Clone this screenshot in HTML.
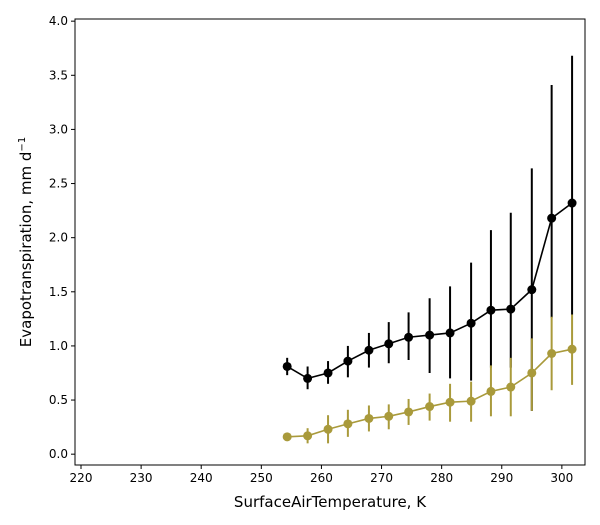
<!DOCTYPE html>
<html><head><meta charset="utf-8"><style>
body{margin:0;background:#fff;}
svg{display:block;font-family:"DejaVu Sans","Liberation Sans",sans-serif;}
</style></head><body>
<svg id="chart" width="600" height="525"></svg>
<script>
const xTicks=[220,230,240,250,260,270,280,290,300];
const yTicks=[0.0,0.5,1.0,1.5,2.0,2.5,3.0,3.5,4.0];
const temps=[254.3,257.7,261.1,264.4,267.9,271.2,274.5,278.0,281.4,284.9,288.2,291.5,295.0,298.3,301.7];
const blackVals=[0.81,0.70,0.75,0.86,0.96,1.02,1.08,1.10,1.12,1.21,1.33,1.34,1.52,2.18,2.32];
const blackHi=[0.89,0.81,0.86,1.00,1.12,1.22,1.31,1.44,1.55,1.77,2.07,2.23,2.64,3.41,3.68];
const blackLo=[0.73,0.60,0.65,0.71,0.80,0.84,0.87,0.75,0.70,0.68,0.80,0.80,0.40,1.26,1.29];
const goldVals=[0.16,0.17,0.23,0.28,0.33,0.35,0.39,0.44,0.48,0.49,0.58,0.62,0.75,0.93,0.97];
const goldHi=[0.17,0.24,0.36,0.41,0.45,0.46,0.51,0.56,0.65,0.67,0.82,0.89,1.07,1.27,1.29];
const goldLo=[0.15,0.10,0.10,0.16,0.21,0.23,0.27,0.31,0.30,0.30,0.35,0.35,0.40,0.59,0.64];

const L=75,R=585,T=19,B=465;
const xmin=219.0,xmax=303.85,ymin=-0.1,ymax=4.02;
const X=v=>L+(v-xmin)/(xmax-xmin)*(R-L);
const Y=v=>B-(v-ymin)/(ymax-ymin)*(B-T);
const svg=document.getElementById('chart');
const NS='http://www.w3.org/2000/svg';
function mk(tag,attrs,parent){const e=document.createElementNS(NS,tag);for(const k in attrs)e.setAttribute(k,attrs[k]);(parent||svg).appendChild(e);return e;}

xTicks.forEach(t=>{
  const g=mk('g',{});
  
  
  mk('line',{x1:X(t),x2:X(t),y1:B,y2:B+4,stroke:'#000'},g);
  const tx=mk('text',{x:X(t),y:B+17,'text-anchor':'middle','font-size':12},g);tx.textContent=t;
});
yTicks.forEach(t=>{
  const g=mk('g',{});
  
  
  mk('line',{x1:L-4,x2:L,y1:Y(t),y2:Y(t),stroke:'#000'},g);
  const tx=mk('text',{x:L-7,y:Y(t)+4,'text-anchor':'end','font-size':12},g);tx.textContent=t.toFixed(1);
});

function series(vals,hi,lo,color,name){
  const g=mk('g',{});
  
  
  vals.forEach((v,i)=>{
    const l=mk('line',{x1:X(temps[i]),x2:X(temps[i]),y1:Y(lo[i]),y2:Y(hi[i]),stroke:color,'stroke-width':2},g);
    
    
  });
  const p=mk('polyline',{points:vals.map((v,i)=>X(temps[i])+','+Y(v)).join(' '),fill:'none',stroke:color,'stroke-width':1.6},g);
  
  
  vals.forEach((v,i)=>{
    const c=mk('circle',{cx:X(temps[i]),cy:Y(v),r:4.5,fill:color},g);
    
    
  });
}
series(blackVals,blackHi,blackLo,'#000','series-black');
series(goldVals,goldHi,goldLo,'#a99a3b','series-gold');

const fr=mk('rect',{x:L,y:T,width:R-L,height:B-T,fill:'none',stroke:'#000','stroke-width':1});


const xl=mk('text',{x:(L+R)/2,y:507,'text-anchor':'middle','font-size':15});


xl.textContent='SurfaceAirTemperature,  K';
const yl=mk('text',{x:0,y:0,'text-anchor':'middle','font-size':15,transform:'translate(31,242) rotate(-90)'});


yl.innerHTML='Evapotranspiration,  mm d<tspan dy="-6" font-size="10">−1</tspan>';
</script>
</body></html>
